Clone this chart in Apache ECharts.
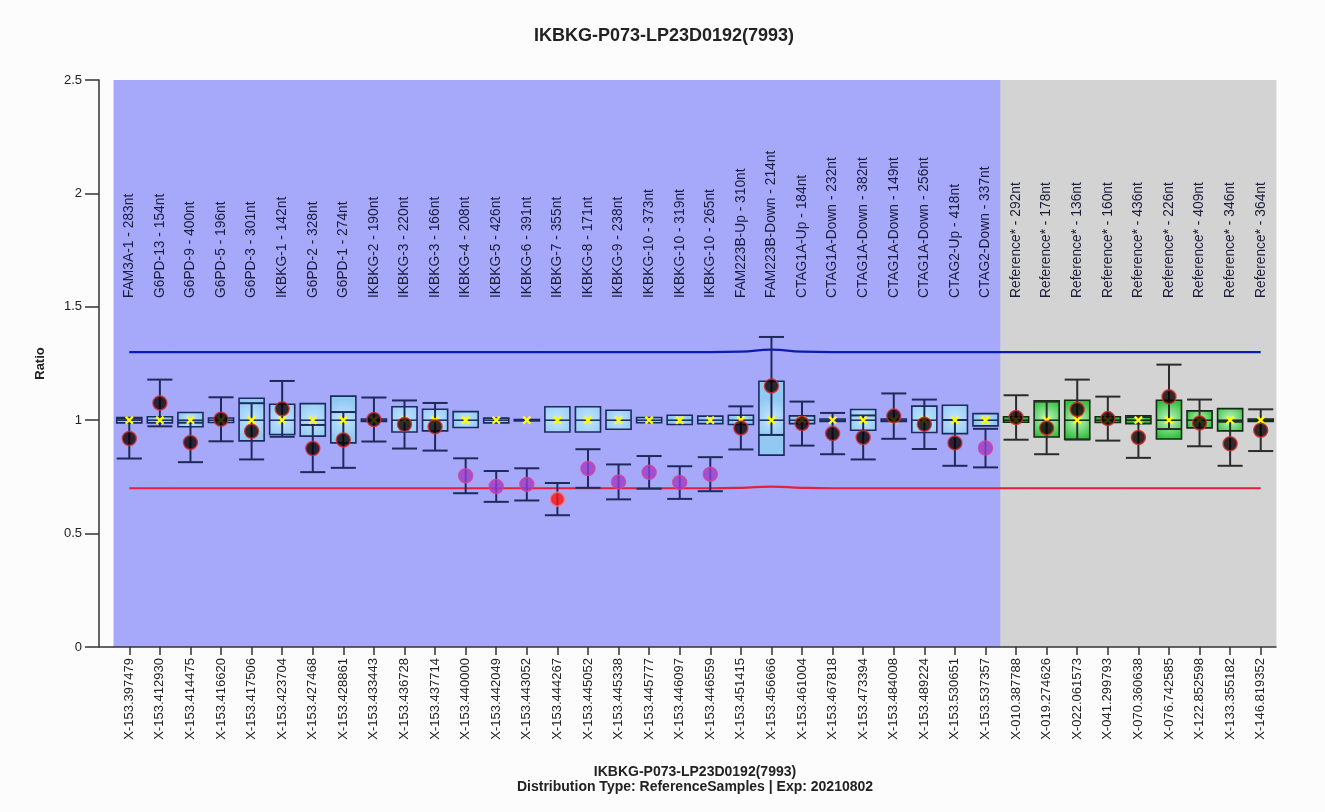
<!DOCTYPE html>
<html><head><meta charset="utf-8">
<script src="https://cdn.jsdelivr.net/npm/echarts@6/dist/echarts.min.js"></script>
<style>html,body{margin:0;padding:0;background:#fcfcfc;}#c{width:1325px;height:812px;}</style>
</head><body><div id="c"></div>
<script>
const probeLabels = ["FAM3A-1 - 283nt","G6PD-13 - 154nt","G6PD-9 - 400nt","G6PD-5 - 196nt","G6PD-3 - 301nt","IKBKG-1 - 142nt","G6PD-2 - 328nt","G6PD-1 - 274nt","IKBKG-2 - 190nt","IKBKG-3 - 220nt","IKBKG-3 - 166nt","IKBKG-4 - 208nt","IKBKG-5 - 426nt","IKBKG-6 - 391nt","IKBKG-7 - 355nt","IKBKG-8 - 171nt","IKBKG-9 - 238nt","IKBKG-10 - 373nt","IKBKG-10 - 319nt","IKBKG-10 - 265nt","FAM223B-Up - 310nt","FAM223B-Down - 214nt","CTAG1A-Up - 184nt","CTAG1A-Down - 232nt","CTAG1A-Down - 382nt","CTAG1A-Down - 149nt","CTAG1A-Down - 256nt","CTAG2-Up - 418nt","CTAG2-Down - 337nt","Reference* - 292nt","Reference* - 178nt","Reference* - 136nt","Reference* - 160nt","Reference* - 436nt","Reference* - 226nt","Reference* - 409nt","Reference* - 346nt","Reference* - 364nt"];
const positions = ["X-153.397479","X-153.412930","X-153.414475","X-153.416620","X-153.417506","X-153.423704","X-153.427468","X-153.428861","X-153.433443","X-153.436728","X-153.437714","X-153.440000","X-153.442049","X-153.443052","X-153.444267","X-153.445052","X-153.445338","X-153.445777","X-153.446097","X-153.446559","X-153.451415","X-153.456666","X-153.461004","X-153.467818","X-153.473394","X-153.484008","X-153.489224","X-153.530651","X-153.537357","X-010.387788","X-019.274626","X-022.061573","X-041.299793","X-070.360638","X-076.742585","X-122.852598","X-133.355182","X-146.819352"];
const boxLow  = [0.988,0.988,0.971,0.990,0.909,0.937,0.930,0.900,0.995,0.948,0.953,0.968,0.988,0.997,0.948,0.948,0.960,0.989,0.981,0.985,0.981,0.846,0.985,0.995,0.956,0.995,0.946,0.941,0.975,0.991,0.926,0.915,0.990,0.985,0.917,0.966,0.953,0.995];
const boxHigh = [1.012,1.015,1.034,1.010,1.097,1.070,1.073,1.106,1.005,1.059,1.048,1.038,1.009,1.003,1.059,1.059,1.044,1.012,1.022,1.018,1.022,1.172,1.019,1.005,1.047,1.005,1.062,1.066,1.029,1.015,1.085,1.088,1.015,1.019,1.088,1.041,1.051,1.005];
const boxMedian = [1,1,1,1,1,1,1,1,1,1,1,1,1,1,1,1,1,1,1,1,1,1,1,1,1,1,1,1,1,1,1,1,1,1,1,1,1,1];
const sampleRatio = [0.919,1.076,0.902,1.004,0.951,1.050,0.875,0.913,1.003,0.981,0.971,0.755,0.708,0.717,0.652,0.787,0.728,0.770,0.725,0.762,0.966,1.151,0.985,0.941,0.924,1.018,0.982,0.900,0.877,1.012,0.966,1.047,1.007,0.924,1.103,0.988,0.896,0.956];
const sampleError = [0.088,0.103,0.087,0.097,0.124,0.123,0.104,0.123,0.097,0.106,0.105,0.077,0.068,0.071,0.071,0.085,0.077,0.072,0.072,0.075,0.095,0.216,0.097,0.091,0.097,0.100,0.109,0.101,0.085,0.098,0.116,0.132,0.097,0.090,0.142,0.103,0.097,0.092];
const dotClass = ["n","n","n","n","n","n","n","n","n","n","n","p","p","p","r","p","p","p","p","p","n","n","n","n","n","n","n","n","p","n","n","n","n","n","n","n","n","n"];
const upperLimit = [1.30,1.30,1.30,1.30,1.30,1.30,1.30,1.30,1.30,1.30,1.30,1.30,1.30,1.30,1.30,1.30,1.30,1.30,1.30,1.30,1.302,1.311,1.302,1.30,1.30,1.30,1.30,1.30,1.30,1.30,1.30,1.30,1.30,1.30,1.30,1.30,1.30,1.30];
const lowerLimit = [0.70,0.70,0.70,0.70,0.70,0.70,0.70,0.70,0.70,0.70,0.70,0.70,0.70,0.70,0.70,0.70,0.70,0.70,0.70,0.70,0.702,0.707,0.702,0.70,0.70,0.70,0.70,0.70,0.70,0.70,0.70,0.70,0.70,0.70,0.70,0.70,0.70,0.70];

const FONT = 'Liberation Sans, Arial, sans-serif';
const isRef = probeLabels.map(l => l.indexOf('Reference') === 0 ? 1 : 0);

const chart = echarts.init(document.getElementById('c'), null, {renderer: 'canvas'});

const dotStyles = {
  n: {color: '#0a0000', borderColor: '#d62a2a', borderWidth: 1.5},
  p: {color: '#9a3cc8', borderColor: '#d8409c', borderWidth: 1.5},
  r: {color: '#ff1212', borderColor: '#ff7a7a', borderWidth: 1.5}
};

const option = {
  backgroundColor: '#fcfcfc',
  animation: false,
  title: [
    {text: 'IKBKG-P073-LP23D0192(7993)', left: 659, top: 22, textAlign: 'center',
     textStyle: {fontFamily: FONT, fontSize: 18, fontWeight: 'bold', color: '#222'}},
    {text: 'IKBKG-P073-LP23D0192(7993)\nDistribution Type: ReferenceSamples | Exp: 20210802', left: 690, top: 760, textAlign: 'center',
     textStyle: {fontFamily: FONT, fontSize: 14, fontWeight: 'bold', color: '#222', lineHeight: 15}}
  ],
  grid: {left: 114, right: 49, top: 80, bottom: 165, containLabel: false},
  xAxis: {type: 'category', data: positions, position: 'bottom', boundaryGap: true,
     axisLine: {show: true, lineStyle: {color: '#333', width: 1.5}},
     axisTick: {show: true, alignWithLabel: true, length: 8, lineStyle: {color: '#333', width: 1.5}},
     axisLabel: {rotate: 90, fontSize: 13, fontFamily: FONT, color: '#222', margin: 11, interval: 0},
     splitLine: {show: false}},
  yAxis: {type: 'value', min: 0, max: 2.5, interval: 0.5, offset: 15,
    name: 'Ratio', nameLocation: 'middle', nameGap: 52, nameRotate: 90,
    nameTextStyle: {fontFamily: FONT, fontSize: 13, fontWeight: 'bold', color: '#222'},
    axisLine: {show: true, lineStyle: {color: '#333', width: 1.5}},
    axisTick: {show: true, length: 14, lineStyle: {color: '#333', width: 1.5}},
    axisLabel: {fontSize: 13, fontFamily: FONT, color: '#222', margin: 17},
    splitLine: {show: false}},
  graphic: [
    {type: 'line', shape: {x1: 99, y1: 647, x2: 114, y2: 647}, style: {stroke: '#333', lineWidth: 1.5}, z: 10}
  ],
  series: [
    {type: 'custom', name: 'bg', silent: true, z: 0,
     data: positions.map((p, i) => [i, isRef[i]]),
     renderItem: function (params, api) {
       const c = api.coord([api.value(0), 0]);
       const w = api.size([1, 0])[0];
       const cs = params.coordSys;
       return {type: 'rect', shape: {x: c[0] - w / 2 - 0.5, y: cs.y, width: w + 1, height: cs.height},
               style: {fill: api.value(1) ? '#d3d3d3' : '#a6a9f9'}};
     }},
    {type: 'custom', name: 'probeNames', silent: true, z: 1,
     data: probeLabels.map((l, i) => [i]),
     renderItem: function (params, api) {
       const i = api.value(0);
       const c = api.coord([i, 0]);
       const cs = params.coordSys;
       return {type: 'text', x: c[0], y: cs.y + 218, rotation: Math.PI / 2,
               style: {text: probeLabels[i], fill: '#1c1c3c', font: '13.8px ' + FONT, align: 'left', verticalAlign: 'middle'}};
     }},
    {type: 'line', name: 'upper', data: upperLimit, smooth: true, symbol: 'none', z: 2,
     lineStyle: {color: '#0b1cae', width: 2.2}},
    {type: 'line', name: 'lower', data: lowerLimit, smooth: true, symbol: 'none', z: 2,
     lineStyle: {color: '#e3203e', width: 2.2}},
    {type: 'custom', name: 'box', z: 3,
     data: positions.map((p, i) => [i, boxLow[i], boxHigh[i], boxMedian[i], isRef[i]]),
     renderItem: function (params, api) {
       const i = api.value(0);
       const lo = api.coord([i, api.value(1)]);
       const hi = api.coord([i, api.value(2)]);
       const md = api.coord([i, api.value(3)]);
       const w = api.size([1, 0])[0] * 0.82;
       const ref = api.value(4);
       const fill = ref
         ? {type: 'radial', x: 0.5, y: 0.5, r: 0.75, colorStops: [{offset: 0, color: '#c6f7c6'}, {offset: 1, color: '#30be3c'}]}
         : {type: 'radial', x: 0.5, y: 0.5, r: 0.75, colorStops: [{offset: 0, color: '#c2e5ff'}, {offset: 1, color: '#92c9f2'}]};
       const stroke = ref ? '#142a14' : '#1c2a5e';
       return {type: 'group', children: [
         {type: 'rect', shape: {x: lo[0] - w / 2, y: hi[1], width: w, height: lo[1] - hi[1]},
          style: {fill: fill, stroke: stroke, lineWidth: 1.6}},
         {type: 'line', shape: {x1: lo[0] - w / 2, y1: md[1], x2: lo[0] + w / 2, y2: md[1]},
          style: {stroke: stroke, lineWidth: 1.5}}
       ]};
     }},
    {type: 'custom', name: 'err', z: 4,
     data: positions.map((p, i) => [i, sampleRatio[i] - sampleError[i], sampleRatio[i] + sampleError[i], isRef[i]]),
     renderItem: function (params, api) {
       const i = api.value(0);
       const lo = api.coord([i, api.value(1)]);
       const hi = api.coord([i, api.value(2)]);
       const w = api.size([1, 0])[0] * 0.82;
       const col = api.value(3) ? '#2b2b2b' : '#1e2a5c';
       const st = {stroke: col, lineWidth: 2};
       return {type: 'group', children: [
         {type: 'line', shape: {x1: lo[0], y1: lo[1], x2: hi[0], y2: hi[1]}, style: st},
         {type: 'line', shape: {x1: lo[0] - w / 2, y1: lo[1], x2: lo[0] + w / 2, y2: lo[1]}, style: st},
         {type: 'line', shape: {x1: hi[0] - w / 2, y1: hi[1], x2: hi[0] + w / 2, y2: hi[1]}, style: st}
       ]};
     }},
    {type: 'custom', name: 'median', z: 5,
     data: positions.map((p, i) => [i, boxMedian[i]]),
     renderItem: function (params, api) {
       const c = api.coord([api.value(0), api.value(1)]);
       const s = 3.6;
       const st = {stroke: '#ffff00', lineWidth: 2.2};
       return {type: 'group', children: [
         {type: 'line', shape: {x1: c[0] - s, y1: c[1] - s, x2: c[0] + s, y2: c[1] + s}, style: st},
         {type: 'line', shape: {x1: c[0] - s, y1: c[1] + s, x2: c[0] + s, y2: c[1] - s}, style: st}
       ]};
     }},
    {type: 'scatter', name: 'sample', z: 6, symbol: 'circle', symbolSize: 14,
     data: sampleRatio.map((v, i) => ({value: [i, v], itemStyle: dotStyles[dotClass[i]]}))}
  ]
};
chart.setOption(option);
</script>
</body></html>
